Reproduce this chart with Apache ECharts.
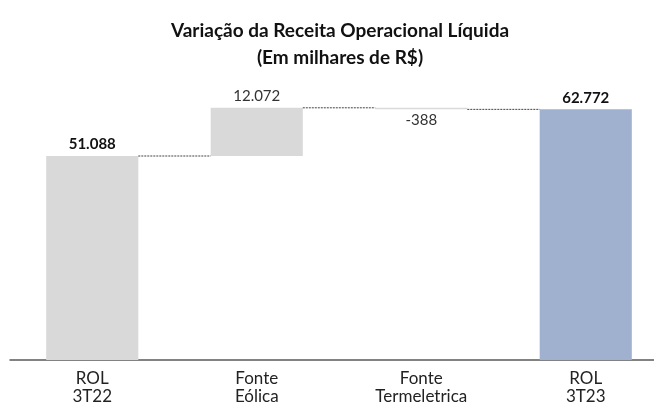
<!DOCTYPE html>
<html>
<head>
<meta charset="utf-8">
<script src="https://cdn.jsdelivr.net/npm/echarts@6/dist/echarts.min.js"></script>
<style>
  html, body { margin: 0; padding: 0; background: #fff; }
  #chart { width: 654px; height: 405px; }
</style>
</head>
<body>
<div id="chart"></div>
<script>
// dados do gráfico
var categories = ['ROL\n3T22', 'Fonte\nEólica', 'Fonte\nTermeletrica', 'ROL\n3T23'];
var values = [51088, 12072, -388, 62772];
var isTotal = [true, false, false, true];
var barColors = ['#D9D9D9', '#D9D9D9', '#D9D9D9', '#9FB1CF'];

function fmt(v) {
    var s = Math.abs(v).toString().replace(/\B(?=(\d{3})+(?!\d))/g, '.');
    return (v < 0 ? '-' : '') + s;
}

// base invisível + barra visível (cascata)
var base = [], shown = [], levels = [];
var run = 0;
values.forEach(function (v, i) {
    if (isTotal[i]) {
        base.push(0);
        shown.push(v);
        run = v;
    } else {
        base.push(v >= 0 ? run : run + v);
        shown.push(Math.abs(v));
        run += v;
    }
    levels.push(run);
});

var BAR_RATIO = 0.56;

var shownData = shown.map(function (v, i) {
    var neg = values[i] < 0;
    return {
        value: v,
        itemStyle: { color: barColors[i] },
        label: {
            show: true,
            position: neg ? 'bottom' : 'top',
            distance: neg ? 3 : 4,
            formatter: fmt(values[i]),
            fontWeight: isTotal[i] ? 'bold' : 'normal',
            color: isTotal[i] ? '#111' : '#333'
        }
    };
});

// linhas tracejadas entre as barras
var connectors = [];
for (var i = 0; i < values.length - 1; i++) {
    connectors.push([i, levels[i]]);
}

var chart = echarts.init(document.getElementById('chart'), null, { renderer: 'canvas' });

chart.setOption({
    animation: false,
    textStyle: { fontFamily: 'Lato' },
    title: {
        text: 'Variação da Receita Operacional Líquida\n(Em milhares de R$)',
        left: 335,
        textAlign: 'center',
        top: 12,
        textStyle: {
            fontFamily: 'Lato',
            fontSize: 19,
            fontWeight: 'bold',
            color: '#111',
            lineHeight: 27
        }
    },
    grid: {
        left: 10,
        top: 80.5,
        width: 658,
        height: 279.5,
        containLabel: false,
        outerBoundsMode: 'none'
    },
    xAxis: {
        type: 'category',
        data: categories,
        axisLine: { lineStyle: { color: '#595959', width: 1.5 } },
        axisTick: { show: false },
        axisLabel: {
            fontFamily: 'Lato',
            fontSize: 17,
            color: '#222',
            lineHeight: 18,
            margin: 10,
            interval: 0
        }
    },
    yAxis: {
        type: 'value',
        min: 0,
        max: 70000,
        show: false,
        splitLine: { show: false }
    },
    series: [
        {
            type: 'bar',
            stack: 'w',
            data: base,
            barWidth: (BAR_RATIO * 100) + '%',
            itemStyle: { color: 'transparent' },
            silent: true
        },
        {
            type: 'bar',
            stack: 'w',
            data: shownData,
            barWidth: (BAR_RATIO * 100) + '%',
            label: { fontFamily: 'Lato', fontSize: 15 }
        },
        {
            type: 'custom',
            data: connectors,
            silent: true,
            z: 5,
            renderItem: function (params, api) {
                var p = api.coord([api.value(0), api.value(1)]);
                var cw = api.size([1, 0])[0];
                var bw = cw * BAR_RATIO;
                return {
                    type: 'line',
                    shape: { x1: p[0] + bw / 2, y1: p[1], x2: p[0] + cw - bw / 2, y2: p[1] },
                    style: { stroke: '#444', lineWidth: 1, lineDash: [2, 1] }
                };
            }
        }
    ]
});
</script>
</body>
</html>
